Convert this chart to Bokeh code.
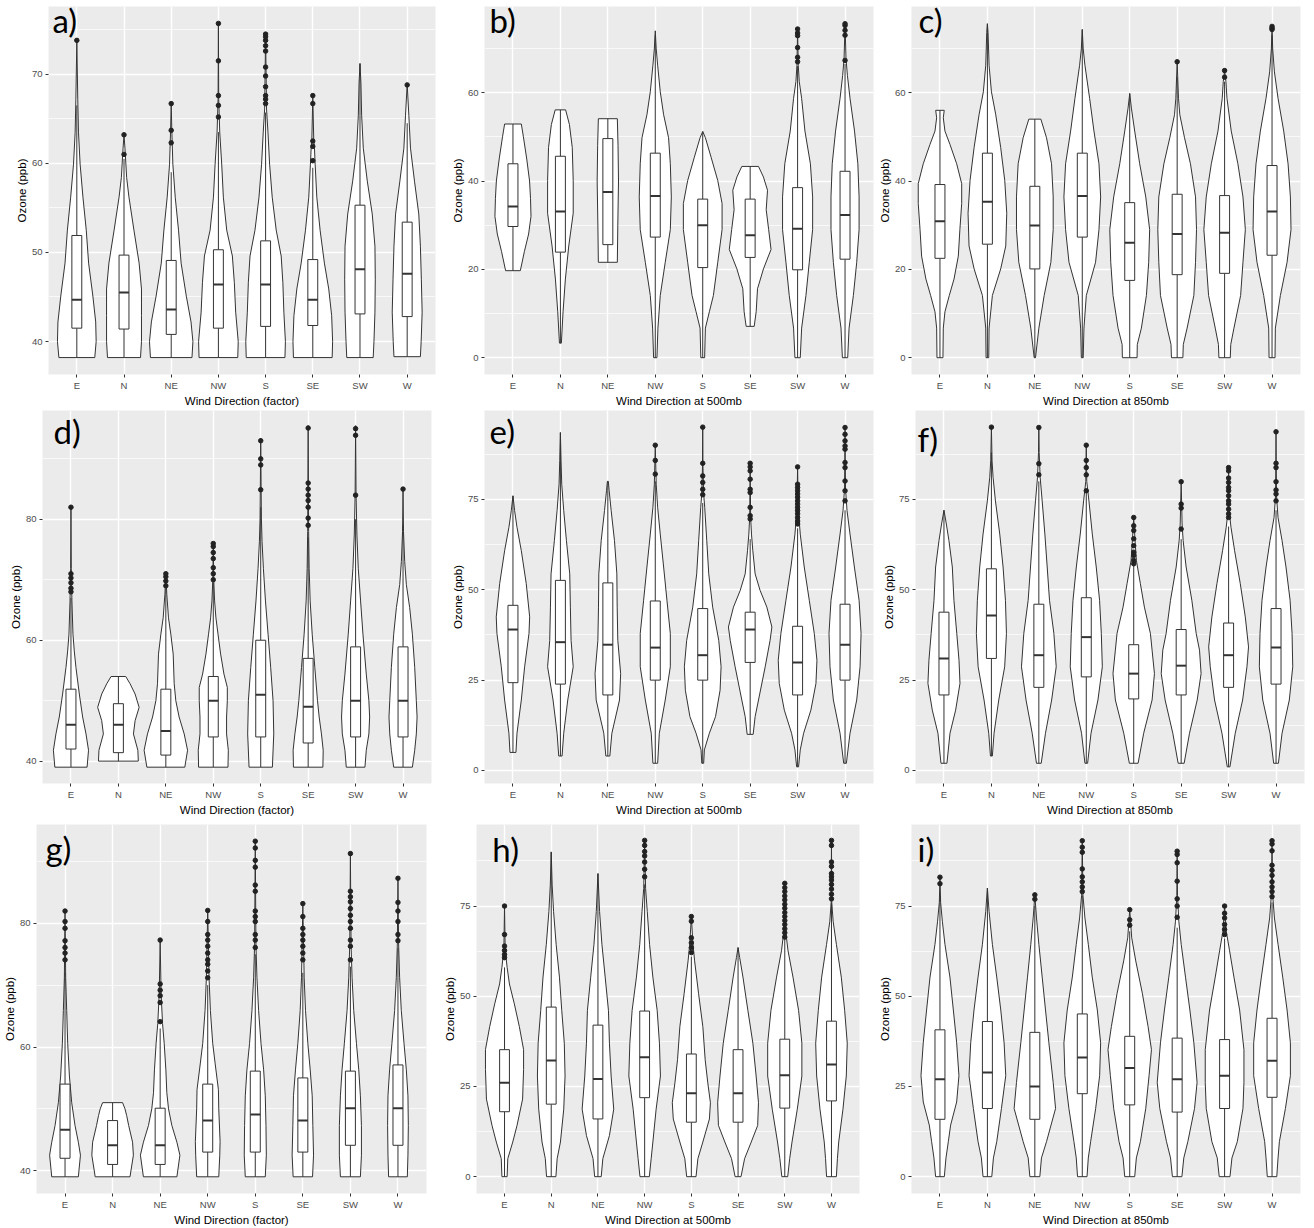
from bokeh.plotting import figure
from bokeh.layouts import row, column
from bokeh.models import Range1d, FixedTicker, Label
from bokeh.embed import file_html
from bokeh.resources import INLINE

CATS = ["E", "N", "NE", "NW", "S", "SE", "SW", "W"]
Y_TITLE = "Ozone (ppb)"
X_TITLES = ["Wind Direction (factor)", "Wind Direction at 500mb", "Wind Direction at 850mb"]
LETTERS = ["a)", "b)", "c)", "d)", "e)", "f)", "g)", "h)", "i)"]

TICKS_40 = [40, 50, 60, 70]
MINOR_40 = [35, 45, 55, 65, 75]
TICKS_0_20 = [0, 20, 40, 60]
MINOR_0_20 = [-10, 10, 30, 50, 70]
TICKS_40_20 = [40, 60, 80]
MINOR_40_20 = [30, 50, 70, 90]
TICKS_0_25 = [0, 25, 50, 75]
MINOR_0_25 = [-12.5, 12.5, 37.5, 62.5, 87.5]

# ---------------- panel a ----------------
A_LO = [38.2, 38.2, 38.2, 38.2, 38.2, 38.2, 38.2, 38.3]
A_Q1 = [41.5, 41.4, 40.8, 41.5, 41.7, 41.8, 43.1, 42.8]
A_MED = [44.7, 45.5, 43.6, 46.4, 46.4, 44.7, 48.1, 47.6]
A_Q3 = [51.9, 49.7, 49.1, 50.3, 51.3, 49.2, 55.3, 53.4]
A_HI = [66.5, 60.5, 59.0, 63.5, 65.7, 59.5, 71.2, 64.5]
A_OUT = [[73.8], [61.0, 63.2], [62.3, 63.7, 66.7], [65.2, 66.5, 67.6, 71.5, 75.7],
         [66.7, 67.2, 67.6, 68.6, 69.8, 70.8, 72.6, 73.2, 73.8, 74.2, 74.5],
         [60.3, 61.9, 62.5, 66.7, 67.6], [], [68.8]]
A_VIO = [
    [(38.2, .38), (40, .41), (42.2, .40), (45.1, .34), (48.8, .25), (52.5, .20), (56.2, .13), (59.9, .07), (63.5, .035), (67.2, .02), (73.8, 0)],
    [(38.2, .35), (40, .37), (42.9, .37), (45.9, .37), (48.8, .32), (52.5, .21), (56.2, .105), (58.4, .056), (61.7, .02), (63.2, 0)],
    [(38.2, .44), (40, .46), (42.2, .42), (45.1, .32), (48.8, .21), (52.5, .155), (56.2, .085), (59.9, .035), (63.5, .014), (66.7, 0)],
    [(38.2, .41), (40, .42), (43.3, .366), (46.6, .338), (49.6, .296), (52.5, .176), (56.2, .105), (59.9, .07), (63.5, .028), (67.2, .007), (75.7, 0)],
    [(38.2, .41), (40, .42), (43.3, .387), (46.6, .366), (49.6, .33), (52.5, .225), (56.2, .14), (59.9, .085), (63.5, .05), (66.1, .02), (74.5, 0)],
    [(38.2, .41), (40, .42), (42.9, .40), (45.9, .338), (48.8, .246), (52.5, .155), (56.2, .085), (59.9, .05), (61.7, .035), (62.6, .02), (67.6, 0)],
    [(38.2, .28), (40, .296), (43.3, .317), (47, .324), (50.7, .317), (54.3, .26), (58, .155), (61.7, .07), (65.4, .035), (69, .02), (71.2, 0)],
    [(38.3, .28), (40, .296), (43.3, .317), (47, .30), (50.7, .28), (54.3, .246), (58, .155), (61.7, .07), (65.4, .035), (68.9, 0)],
]

# ---------------- panel b ----------------
B_LO = [19.7, 3.3, 21.6, 0, 0, 7.1, 0, 0]
B_Q1 = [29.7, 23.9, 25.6, 27.3, 20.4, 22.7, 19.9, 22.3]
B_MED = [34.2, 33.1, 37.5, 36.6, 30.0, 27.7, 29.2, 32.3]
B_Q3 = [43.9, 45.6, 49.6, 46.3, 35.9, 35.9, 38.5, 42.2]
B_HI = [52.9, 56.1, 54.1, 73.0, 51.2, 43.3, 66.0, 66.5]
B_OUT = [[], [], [], [], [], [], [67.0, 68.0, 70.2, 72.9, 73.5, 74.4], [67.3, 73.0, 74.1, 75.2, 75.6]]
B_VIO = [
    [(19.7, .155), (24, .24), (28, .33), (32, .38), (36, .37), (40, .35), (45, .29), (50, .22), (52.9, .176)],
    [(3.3, .02), (10.4, .056), (17.8, .105), (25.3, .176), (32.7, .27), (40.1, .27), (47.6, .25), (52.8, .19), (56.1, .11)],
    [(21.6, .2), (30, .21), (40, .225), (48, .215), (54.1, .2)],
    [(0, .035), (6.7, .056), (14.1, .105), (21.6, .21), (29, .317), (36.4, .338), (43.9, .317), (49.8, .28), (55, .176), (60.2, .105), (66.2, .05), (69.9, .02), (74, 0)],
    [(0, .04), (6.7, .056), (10.4, .14), (14.1, .225), (21.6, .317), (29, .408), (34.9, .408), (40.1, .317), (45.4, .176), (49.8, .056), (51.2, 0)],
    [(7.1, .085), (10.4, .127), (15.6, .155), (20.1, .28), (24.5, .44), (29, .39), (33.5, .338), (37.9, .366), (40.9, .28), (43.3, .176)],
    [(0, .056), (6.7, .085), (14.1, .176), (21.6, .246), (29, .317), (36.4, .317), (43.9, .27), (51.3, .155), (58.7, .085), (62.5, .035), (66.2, .014), (74.4, 0)],
    [(0, .056), (6.7, .085), (14.1, .176), (21.6, .246), (29, .296), (36.4, .296), (43.9, .27), (51.3, .2), (58.7, .105), (63.9, .05), (67.7, .02), (75.6, 0)],
]

# ---------------- panel c ----------------
C_LO = [0, 0, 0, 0, 0, 0, 0, 0]
C_Q1 = [22.5, 25.7, 20.1, 27.3, 17.5, 18.8, 19.1, 23.2]
C_MED = [30.9, 35.3, 29.9, 36.6, 26.0, 28.0, 28.3, 33.1]
C_Q3 = [39.2, 46.3, 38.8, 46.3, 35.1, 37.0, 36.7, 43.5]
C_HI = [56.0, 75.6, 54.0, 74.3, 59.8, 63.5, 62.5, 73.0]
C_OUT = [[], [], [], [], [], [67.0], [63.5, 65.0], [74.3, 74.6, 75.0]]
C_VIO = [
    [(0, .063), (6.7, .07), (10.4, .105), (14.1, .197), (17.8, .296), (23, .387), (29, .42), (34.9, .458), (39.4, .458), (43.9, .352), (48.3, .21), (51.3, .105), (54.3, .07), (56, .09)],
    [(0, .028), (6.7, .035), (14.1, .105), (20.1, .28), (25.3, .387), (32.7, .408), (40.1, .366), (47.6, .28), (55, .176), (60.2, .085), (66.2, .035), (73.6, .014), (75.6, 0)],
    [(0, .014), (6.7, .085), (14.1, .197), (21.6, .338), (29, .387), (36.4, .387), (43.9, .352), (49.8, .246), (54, .127)],
    [(0, .02), (6.7, .035), (14.1, .085), (21.6, .28), (29, .352), (36.4, .387), (43.9, .352), (51.3, .246), (58.7, .155), (66.2, .056), (69.9, .02), (74.3, 0)],
    [(0, .155), (3, .16), (6.7, .246), (14.1, .352), (21.6, .40), (29, .42), (36.4, .338), (43.9, .21), (51.3, .105), (56.5, .035), (59.8, 0)],
    [(0, .12), (3, .13), (6.7, .21), (14.1, .352), (21.6, .387), (29, .408), (36.4, .387), (43.9, .28), (49.8, .155), (55, .056), (58.7, .028), (67, 0)],
    [(0, .12), (3, .13), (6.7, .197), (14.1, .338), (21.6, .387), (29, .437), (36.4, .387), (43.9, .28), (51.3, .14), (58.7, .05), (62.5, .028), (65, 0)],
    [(0, .063), (6.7, .07), (14.1, .176), (21.6, .317), (29, .40), (36.4, .387), (43.9, .338), (51.3, .246), (58.7, .127), (64.7, .05), (69.9, .014), (75, 0)],
]

# ---------------- panel d ----------------
D_LO = [39.0, 40.0, 39.0, 39.0, 39.0, 39.0, 39.0, 39.0]
D_Q1 = [42.0, 41.4, 41.0, 44.0, 44.0, 43.0, 44.0, 44.0]
D_MED = [46.0, 46.0, 45.0, 50.0, 51.0, 49.0, 50.0, 50.0]
D_Q3 = [51.9, 49.5, 51.9, 54.0, 60.0, 57.0, 58.9, 58.9]
D_HI = [67.0, 54.0, 68.5, 69.5, 82.0, 77.0, 80.0, 79.0]
D_OUT = [[68.0, 68.6, 69.5, 70.3, 71.0, 82.0], [], [69.0, 69.8, 70.5, 71.0],
         [70.0, 71.0, 72.0, 73.5, 74.5, 75.5, 76.0], [84.9, 89.0, 90.0, 93.0],
         [79.0, 80.2, 82.0, 83.1, 84.0, 85.0, 86.0, 95.1], [84.0, 93.9, 95.0], [85.0]]
D_VIO = [
    [(39, .34), (41.8, .37), (44.5, .317), (47.3, .246), (51.1, .176), (55.5, .105), (58.2, .07), (61, .042), (66.5, .02), (71.9, .007), (82, 0)],
    [(40, .42), (41.8, .41), (44.5, .317), (46.7, .352), (48.9, .437), (51.1, .352), (52.8, .246), (54, .155)],
    [(39, .40), (41.8, .458), (44.5, .387), (47.3, .28), (50, .21), (52.8, .176), (57.7, .155), (61, .105), (63.7, .056), (67.6, .02), (71, 0)],
    [(39, .31), (41.8, .317), (44.5, .28), (47.3, .28), (50, .296), (52.2, .296), (54.4, .225), (57.7, .155), (61, .1), (63.7, .056), (66.5, .028), (70, .01), (76, 0)],
    [(39, .246), (44.5, .275), (50, .26), (55.5, .21), (61, .155), (66.5, .1), (71.9, .056), (76.3, .028), (80.2, .014), (93.4, 0)],
    [(39, .31), (41.8, .317), (44.5, .28), (47.3, .232), (50, .197), (55.5, .14), (61, .085), (66.5, .042), (71.9, .021), (78, .01), (95.5, 0)],
    [(39, .197), (41.8, .225), (44.5, .28), (47.3, .296), (50, .28), (54.4, .225), (61, .155), (66.5, .105), (71.9, .056), (77.4, .028), (84, .01), (95.5, 0)],
    [(39, .197), (41.8, .246), (44.5, .28), (47.3, .296), (50, .28), (55.5, .246), (61, .197), (65.4, .14), (69.2, .07), (73, .035), (78, .01), (85, 0)],
]

# ---------------- panel e ----------------
E_LO = [5.0, 4.0, 4.0, 2.0, 2.0, 10.0, 1.0, 2.0]
E_Q1 = [24.3, 23.9, 20.9, 25.0, 25.0, 29.9, 20.9, 25.0]
E_MED = [39.0, 35.5, 34.8, 34.0, 31.9, 39.0, 29.9, 34.8]
E_Q3 = [45.7, 52.6, 51.9, 46.9, 44.8, 43.8, 39.9, 46.0]
E_HI = [76.0, 93.5, 80.0, 80.0, 74.0, 64.0, 67.0, 72.0]
E_OUT = [[], [], [], [82.0, 85.8, 90.0], [76.3, 77.8, 79.7, 81.5, 85.0, 95.0],
         [69.6, 70.5, 72.8, 76.9, 77.8, 80.6, 82.9, 84.0, 85.0],
         [68.2, 69.0, 70.0, 71.0, 71.9, 72.8, 73.7, 74.6, 75.6, 76.5, 77.4, 78.3, 79.2, 84.0],
         [74.6, 77.4, 80.1, 83.8, 85.2, 88.9, 89.8, 91.2, 93.0, 94.9]]
E_VIO = [
    [(5, .063), (10.3, .085), (19.5, .176), (28.7, .246), (37.9, .338), (42.5, .352), (51.7, .28), (60.8, .176), (67.3, .085), (71.9, .035), (76, 0)],
    [(4, .035), (10.3, .07), (19.5, .155), (28.7, .27), (36, .225), (45.2, .21), (54.4, .197), (63.6, .127), (71.9, .07), (79.2, .028), (85.7, .014), (93.5, 0)],
    [(4, .042), (10.3, .085), (19.5, .246), (26.8, .27), (36, .21), (45.2, .197), (54.4, .19), (63.6, .14), (71.9, .07), (77.4, .028), (80, .01)],
    [(2, .05), (10.3, .085), (19.5, .21), (28.7, .317), (37.9, .317), (47.1, .246), (56.3, .176), (65.4, .105), (72.8, .05), (79.2, .02), (90, 0)],
    [(2, .02), (5.7, .035), (10.3, .14), (14.9, .27), (22.2, .366), (28.7, .387), (36, .338), (45.2, .21), (54.4, .127), (63.6, .085), (72.8, .042), (76.5, .02), (84, .005), (95, 0)],
    [(10, .063), (14.9, .105), (19.5, .176), (28.7, .317), (36, .42), (39.7, .458), (45.2, .352), (49.8, .21), (54.4, .105), (60.8, .056), (65.4, .028), (70, .01), (85, 0)],
    [(1, .02), (5.7, .056), (10.3, .127), (16.7, .28), (24.1, .387), (30.5, .408), (37.9, .352), (47.1, .246), (56.3, .14), (65.4, .056), (70, .028), (76, .01), (84, 0)],
    [(2, .028), (10.3, .105), (19.5, .246), (28.7, .317), (37.9, .338), (47.1, .296), (56.3, .197), (65.4, .105), (71.9, .042), (78, .01), (95, 0)],
]

# ---------------- panel f ----------------
F_LO = [2.0, 4.0, 2.0, 2.0, 2.0, 2.0, 1.0, 2.0]
F_Q1 = [20.9, 31.0, 23.0, 25.9, 19.8, 20.9, 23.0, 23.9]
F_MED = [31.0, 42.9, 31.9, 36.9, 26.8, 29.0, 31.9, 34.0]
F_Q3 = [43.8, 55.8, 46.0, 47.8, 34.8, 39.0, 40.8, 44.8]
F_HI = [72.0, 88.0, 80.0, 77.0, 57.0, 64.0, 67.5, 72.0]
F_OUT = [[], [95.0], [81.8, 84.9, 94.9], [77.4, 81.8, 83.8, 85.8, 90.0],
         [57.2, 58.1, 59.5, 60.4, 62.2, 64.1, 66.4, 67.7, 70.0], [66.8, 72.6, 73.7, 79.9],
         [70.0, 71.0, 72.3, 73.7, 74.6, 76.0, 77.4, 78.3, 79.7, 80.9, 82.9, 83.8],
         [74.6, 76.5, 77.6, 79.9, 83.8, 85.0, 93.7]]
F_VIO = [
    [(2, .063), (10.3, .127), (16.7, .246), (24.1, .338), (30.5, .317), (37.9, .27), (47.1, .21), (56.3, .176), (63.6, .105), (68.2, .05), (72, 0)],
    [(4, .02), (10.3, .056), (19.5, .155), (28.7, .28), (37.9, .317), (47.1, .296), (56.3, .246), (65.4, .176), (74.6, .085), (81.1, .035), (85.7, .014), (95, 0)],
    [(2, .05), (10.3, .14), (19.5, .27), (28.7, .366), (37.9, .317), (47.1, .225), (56.3, .176), (65.4, .127), (74.6, .07), (81.1, .028), (88, .007), (95, 0)],
    [(2, .028), (10.3, .1), (19.5, .246), (28.7, .338), (37.9, .317), (47.1, .28), (56.3, .21), (65.4, .127), (74.6, .056), (80, .01), (90.5, 0)],
    [(2, .092), (10.3, .21), (19.5, .387), (26.8, .437), (33.3, .387), (37.9, .352), (45.2, .225), (51.7, .14), (58.1, .056), (63.6, .028), (70, 0)],
    [(2, .063), (10.3, .176), (19.5, .338), (26.8, .42), (33.3, .387), (37.9, .317), (47.1, .225), (56.3, .105), (63.6, .042), (68.2, .02), (80, 0)],
    [(1, .028), (10.3, .14), (19.5, .296), (28.7, .387), (34.2, .42), (42.5, .352), (51.7, .246), (60.8, .127), (67.3, .05), (72, .01), (84, 0)],
    [(2, .05), (10.3, .127), (19.5, .28), (28.7, .352), (37.9, .338), (47.1, .296), (56.3, .21), (63.6, .127), (70, .042), (76, .01), (93.5, 0)],
]

# ---------------- panel g ----------------
G_LO = [39.0, 39.0, 39.0, 39.0, 39.0, 39.0, 39.0, 39.0]
G_Q1 = [42.0, 41.0, 41.0, 43.0, 43.0, 43.0, 44.1, 44.1]
G_MED = [46.6, 44.1, 44.1, 48.1, 49.1, 48.1, 50.1, 50.1]
G_Q3 = [54.0, 48.1, 50.1, 54.0, 56.1, 55.0, 56.1, 57.1]
G_HI = [72.0, 51.0, 63.0, 70.0, 75.0, 72.0, 73.0, 76.0]
G_OUT = [[74.1, 75.2, 76.1, 77.2, 79.2, 80.3, 82.0], [], [64.1, 67.2, 68.3, 69.2, 70.2, 77.3],
         [71.2, 72.3, 73.4, 74.1, 75.2, 76.3, 77.3, 78.2, 80.3, 82.1],
         [76.1, 77.3, 78.2, 80.3, 81.1, 82.0, 85.2, 86.2, 89.1, 90.2, 92.2, 93.3],
         [74.1, 75.2, 76.3, 77.3, 78.2, 79.2, 81.1, 83.2],
         [74.1, 76.3, 77.3, 79.2, 80.3, 81.3, 82.4, 83.5, 84.3, 85.2, 91.3],
         [77.2, 78.2, 80.3, 82.0, 83.4, 87.3]]
G_VIO = [
    [(39, .28), (42.5, .324), (44.6, .28), (47.3, .21), (51, .14), (55.3, .092), (60.6, .056), (65.9, .035), (71.2, .014), (82, 0)],
    [(39, .366), (42.5, .437), (44.6, .42), (47.3, .338), (48.9, .296), (50, .26), (51, .21)],
    [(39, .352), (42.5, .415), (44.6, .352), (47.3, .246), (50, .176), (52.6, .14), (56.3, .12), (60.6, .085), (63.8, .05), (68.6, .02), (77, 0)],
    [(39, .232), (42.5, .253), (44.7, .26), (50, .232), (53.1, .225), (57.4, .155), (60.6, .105), (65.9, .056), (71.2, .028), (82, 0)],
    [(39, .21), (42.5, .232), (47.3, .225), (52.1, .21), (56.3, .176), (60.6, .12), (65.9, .07), (71.2, .035), (76.5, .014), (93.5, 0)],
    [(39, .204), (42.5, .225), (47.3, .21), (52.1, .197), (56.3, .155), (60.6, .105), (65.9, .056), (71.2, .028), (83, 0)],
    [(39, .21), (42.5, .232), (47.3, .232), (52.1, .21), (56.3, .176), (60.6, .127), (65.9, .07), (71.2, .035), (76.5, .014), (91.3, 0)],
    [(39, .197), (42.5, .21), (47.3, .218), (52.1, .21), (56.3, .176), (60.6, .127), (65.9, .07), (71.2, .035), (76.5, .014), (87, 0)],
]

# ---------------- panel h ----------------
H_LO = [0, 0, 0, 0, 0, 0, 0, 0]
H_Q1 = [18.0, 20.1, 16.0, 21.9, 15.1, 15.1, 19.0, 21.0]
H_MED = [26.0, 32.2, 27.1, 33.1, 23.1, 23.1, 28.1, 31.1]
H_Q3 = [35.2, 47.0, 42.0, 45.9, 34.0, 35.2, 38.1, 43.1]
H_HI = [58.0, 90.0, 84.0, 81.0, 61.0, 63.5, 66.0, 76.0]
H_OUT = [[60.7, 61.6, 62.7, 63.9, 67.1, 75.0], [], [], [83.1, 85.2, 87.2, 88.9, 90.1, 91.8, 93.2],
         [62.1, 63.5, 64.8, 66.2, 70.8, 72.1], [],
         [66.4, 67.6, 68.7, 69.9, 71.0, 72.1, 73.2, 74.4, 75.5, 76.7, 77.8, 79.0, 80.1, 81.3],
         [77.0, 78.3, 79.7, 81.0, 82.2, 83.1, 84.0, 86.0, 87.2, 91.8, 93.2]]
H_VIO = [
    [(0, .056), (5, .07), (9.6, .176), (14.2, .268), (21.5, .387), (29.7, .408), (35.2, .408), (41.6, .317), (47.9, .21), (53.4, .105), (58, .056), (63, .014), (75, 0)],
    [(0, .1), (5, .127), (9.6, .197), (18.7, .268), (27.9, .296), (37, .28), (46.1, .225), (55.3, .176), (64.4, .105), (73.5, .05), (80.8, .02), (90, 0)],
    [(0, .07), (5, .105), (11.4, .246), (18.7, .338), (27.9, .282), (37, .246), (46.1, .225), (55.3, .155), (64.4, .085), (73.5, .035), (84, 0)],
    [(0, .1), (5, .14), (9.6, .176), (18.7, .246), (27.9, .338), (37, .317), (46.1, .268), (55.3, .176), (64.4, .105), (73.5, .056), (79.9, .02), (93, 0)],
    [(0, .1), (5, .14), (9.6, .246), (16, .387), (20.5, .408), (26, .352), (32.4, .296), (41.6, .246), (50.7, .155), (59.8, .07), (64.4, .035), (72, 0)],
    [(0, .063), (5, .14), (9.6, .282), (14.2, .42), (20.5, .437), (27.9, .387), (37, .317), (46.1, .21), (55.3, .105), (60.7, .035), (63.5, 0)],
    [(0, .063), (5, .105), (9.6, .155), (18.7, .268), (27.9, .366), (37, .366), (46.1, .296), (55.3, .176), (62.6, .07), (67.1, .028), (72, .007), (81, 0)],
    [(0, .105), (5, .127), (9.6, .155), (18.7, .246), (27.9, .317), (37, .338), (46.1, .282), (55.3, .21), (64.4, .105), (70.8, .035), (76, .007), (93, 0)],
]

# ---------------- panel i ----------------
I_LO = [0, 0, 0, 0, 0, 0, 0, 0]
I_Q1 = [15.9, 18.9, 15.9, 23.0, 19.9, 17.9, 18.9, 22.0]
I_MED = [27.0, 28.9, 25.0, 33.0, 30.1, 27.0, 28.0, 32.1]
I_Q3 = [40.7, 43.0, 40.0, 45.1, 38.9, 38.4, 38.0, 43.9]
I_HI = [77.0, 80.0, 75.0, 78.0, 68.0, 69.0, 66.0, 76.0]
I_OUT = [[81.2, 83.0], [], [76.9, 78.1], [79.0, 80.3, 81.7, 83.1, 85.3, 89.9, 91.3, 93.1],
         [69.7, 71.2, 74.0], [71.9, 75.0, 77.0, 81.9, 87.0, 89.3, 90.2],
         [67.1, 68.5, 69.9, 71.7, 73.0, 75.0],
         [77.6, 79.0, 80.3, 81.7, 83.5, 84.9, 86.3, 90.3, 92.2, 93.1]]
I_VIO = [
    [(0, .092), (5.2, .127), (9.7, .176), (14.3, .225), (20.7, .352), (28, .40), (37.1, .352), (46.2, .282), (55.3, .21), (64.4, .105), (70.8, .05), (76, .014), (83, 0)],
    [(0, .092), (5.2, .127), (9.7, .197), (18.9, .296), (28, .387), (37.1, .352), (46.2, .282), (55.3, .197), (64.4, .105), (73.5, .035), (80, 0)],
    [(0, .105), (5.2, .14), (9.7, .246), (18.9, .437), (26.1, .387), (37.1, .296), (46.2, .225), (55.3, .155), (64.4, .085), (71.7, .035), (78, 0)],
    [(0, .1), (5.2, .127), (9.7, .176), (18.9, .282), (28, .366), (37.1, .387), (46.2, .317), (55.3, .21), (64.4, .127), (71.7, .056), (78, .014), (93, 0)],
    [(0, .105), (5.2, .14), (9.7, .225), (18.9, .338), (28, .408), (35.2, .458), (41.6, .387), (50.7, .268), (59.8, .127), (66.2, .042), (74, 0)],
    [(0, .1), (5.2, .14), (9.7, .225), (18.9, .366), (26.1, .42), (37.1, .352), (46.2, .268), (55.3, .176), (64.4, .085), (70.8, .035), (78, .007), (90, 0)],
    [(0, .113), (5.2, .155), (9.7, .268), (18.9, .387), (26.1, .408), (35.2, .408), (46.2, .317), (55.3, .197), (62.6, .105), (68, .035), (75, 0)],
    [(0, .1), (5.2, .127), (9.7, .155), (18.9, .282), (28, .387), (37.1, .387), (46.2, .317), (55.3, .225), (64.4, .127), (71.7, .05), (78, .014), (93, 0)],
]

PANEL_DATA = [
    (A_VIO, A_LO, A_Q1, A_MED, A_Q3, A_HI, A_OUT, (36.3, 77.6), TICKS_40, MINOR_40),
    (B_VIO, B_LO, B_Q1, B_MED, B_Q3, B_HI, B_OUT, (-3.8, 79.5), TICKS_0_20, MINOR_0_20),
    (C_VIO, C_LO, C_Q1, C_MED, C_Q3, C_HI, C_OUT, (-3.8, 79.5), TICKS_0_20, MINOR_0_20),
    (D_VIO, D_LO, D_Q1, D_MED, D_Q3, D_HI, D_OUT, (36.3, 98.0), TICKS_40_20, MINOR_40_20),
    (E_VIO, E_LO, E_Q1, E_MED, E_Q3, E_HI, E_OUT, (-3.6, 99.6), TICKS_0_25, MINOR_0_25),
    (F_VIO, F_LO, F_Q1, F_MED, F_Q3, F_HI, F_OUT, (-3.6, 99.6), TICKS_0_25, MINOR_0_25),
    (G_VIO, G_LO, G_Q1, G_MED, G_Q3, G_HI, G_OUT, (36.3, 96.0), TICKS_40_20, MINOR_40_20),
    (H_VIO, H_LO, H_Q1, H_MED, H_Q3, H_HI, H_OUT, (-4.66, 97.6), TICKS_0_25, MINOR_0_25),
    (I_VIO, I_LO, I_Q1, I_MED, I_Q3, I_HI, I_OUT, (-4.66, 97.6), TICKS_0_25, MINOR_0_25),
]

# layout: (width, height, left, right, top, bottom, label_dx, label_baseline_dy)
LAYOUT = [
    (440, 409, 48, 5, 6, 29, 4, 27),
    (435, 409, 44, 2, 6, 29, 5, 27),
    (439, 409, 35, 14, 6, 29, 7, 27),
    (440, 409, 42, 9, 1, 35, 11, 33),
    (435, 409, 44, 2, 1, 35, 5, 33),
    (439, 409, 40, 10, 1, 35, 2, 41),
    (440, 410, 33, 14, 6, 31, 9, 37),
    (435, 410, 31, 16, 6, 31, 16, 38),
    (439, 410, 36, 14, 6, 31, 6, 38),
]

LINE = "#333333"
AX_FONT = "Liberation Sans"
BOX_HALF = 0.105
LABEL_FS = 33
LABEL_SHIFT = 13  # renderer places the alphabetic baseline lower than requested


def make_panel(k):
    vio, lo, q1, med, q3, hi, out, (y0, y1), ticks, minor = PANEL_DATA[k]
    w, h, bl, br, bt, bb, ldx, ldy = LAYOUT[k]
    p = figure(width=w, height=h, x_range=Range1d(0.4, 8.6), y_range=Range1d(y0, y1),
               output_backend="svg", toolbar_location=None, tools="",
               min_border_left=bl, min_border_right=br, min_border_top=bt, min_border_bottom=bb,
               background_fill_color="#EBEBEB", border_fill_color="white", outline_line_color=None)
    xt = FixedTicker(ticks=list(range(1, len(CATS) + 1)))
    yt = FixedTicker(ticks=ticks, minor_ticks=minor)
    p.xaxis.ticker = xt
    p.yaxis.ticker = yt
    p.xgrid.ticker = xt
    p.ygrid.ticker = yt
    p.xaxis.major_label_overrides = {i + 1: c for i, c in enumerate(CATS)}
    for g in (p.xgrid, p.ygrid):
        g.grid_line_color = "white"
        g.grid_line_width = 1.4
    p.ygrid.minor_grid_line_color = "white"
    p.ygrid.minor_grid_line_width = 0.7
    for ax in (p.xaxis, p.yaxis):
        ax.axis_line_color = None
        ax.major_tick_line_color = LINE
        ax.major_tick_out = 3
        ax.major_tick_in = 0
        ax.minor_tick_line_color = None
        ax.major_label_text_color = "#4D4D4D"
        ax.major_label_text_font = AX_FONT
        ax.major_label_text_font_size = "9.5px"
        ax.major_label_standoff = 2
        ax.axis_label_text_font = AX_FONT
        ax.axis_label_text_font_size = "11.5px"
        ax.axis_label_text_font_style = "normal"
        ax.axis_label_text_color = "black"
        ax.axis_label_standoff = 1
    p.xaxis.axis_label = X_TITLES[k % 3]
    p.yaxis.axis_label = Y_TITLE

    xs, ys = [], []
    for i, prof in enumerate(vio):
        c = i + 1
        yy = [pt[0] for pt in prof]
        ww = [pt[1] for pt in prof]
        xs.append([c - v for v in ww] + [c + v for v in reversed(ww)])
        ys.append(yy + list(reversed(yy)))
    p.patches(xs, ys, fill_color="white", line_color=LINE, line_width=1)

    cx = [i + 1 for i in range(len(CATS))]
    p.segment(x0=cx, y0=lo, x1=cx, y1=q1, line_color=LINE, line_width=1)
    p.segment(x0=cx, y0=q3, x1=cx, y1=hi, line_color=LINE, line_width=1)
    p.quad(left=[c - BOX_HALF for c in cx], right=[c + BOX_HALF for c in cx], bottom=q1, top=q3,
           fill_color="white", line_color=LINE, line_width=1)
    p.segment(x0=[c - BOX_HALF for c in cx], y0=med, x1=[c + BOX_HALF for c in cx], y1=med,
              line_color=LINE, line_width=2)
    ox, oy = [], []
    for i, vals in enumerate(out):
        ox += [i + 1] * len(vals)
        oy += vals
    p.scatter(ox, oy, size=4.5, fill_color="#222222", line_color="#222222")

    fw = w - bl - br
    fh = h - bt - bb
    lx = 0.4 + ldx * 8.2 / fw
    ly = y1 - (ldy - LABEL_SHIFT) * (y1 - y0) / fh
    p.add_layout(Label(x=lx, y=ly, text=LETTERS[k], text_font="Lato", text_font_size=f"{LABEL_FS}px",
                       text_color="black", text_baseline="alphabetic", text_align="left"))
    return p


panels = [make_panel(k) for k in range(9)]
layout = column(row(*panels[0:3]), row(*panels[3:6]), row(*panels[6:9]))
open("out.html", "w").write(file_html(layout, INLINE))
